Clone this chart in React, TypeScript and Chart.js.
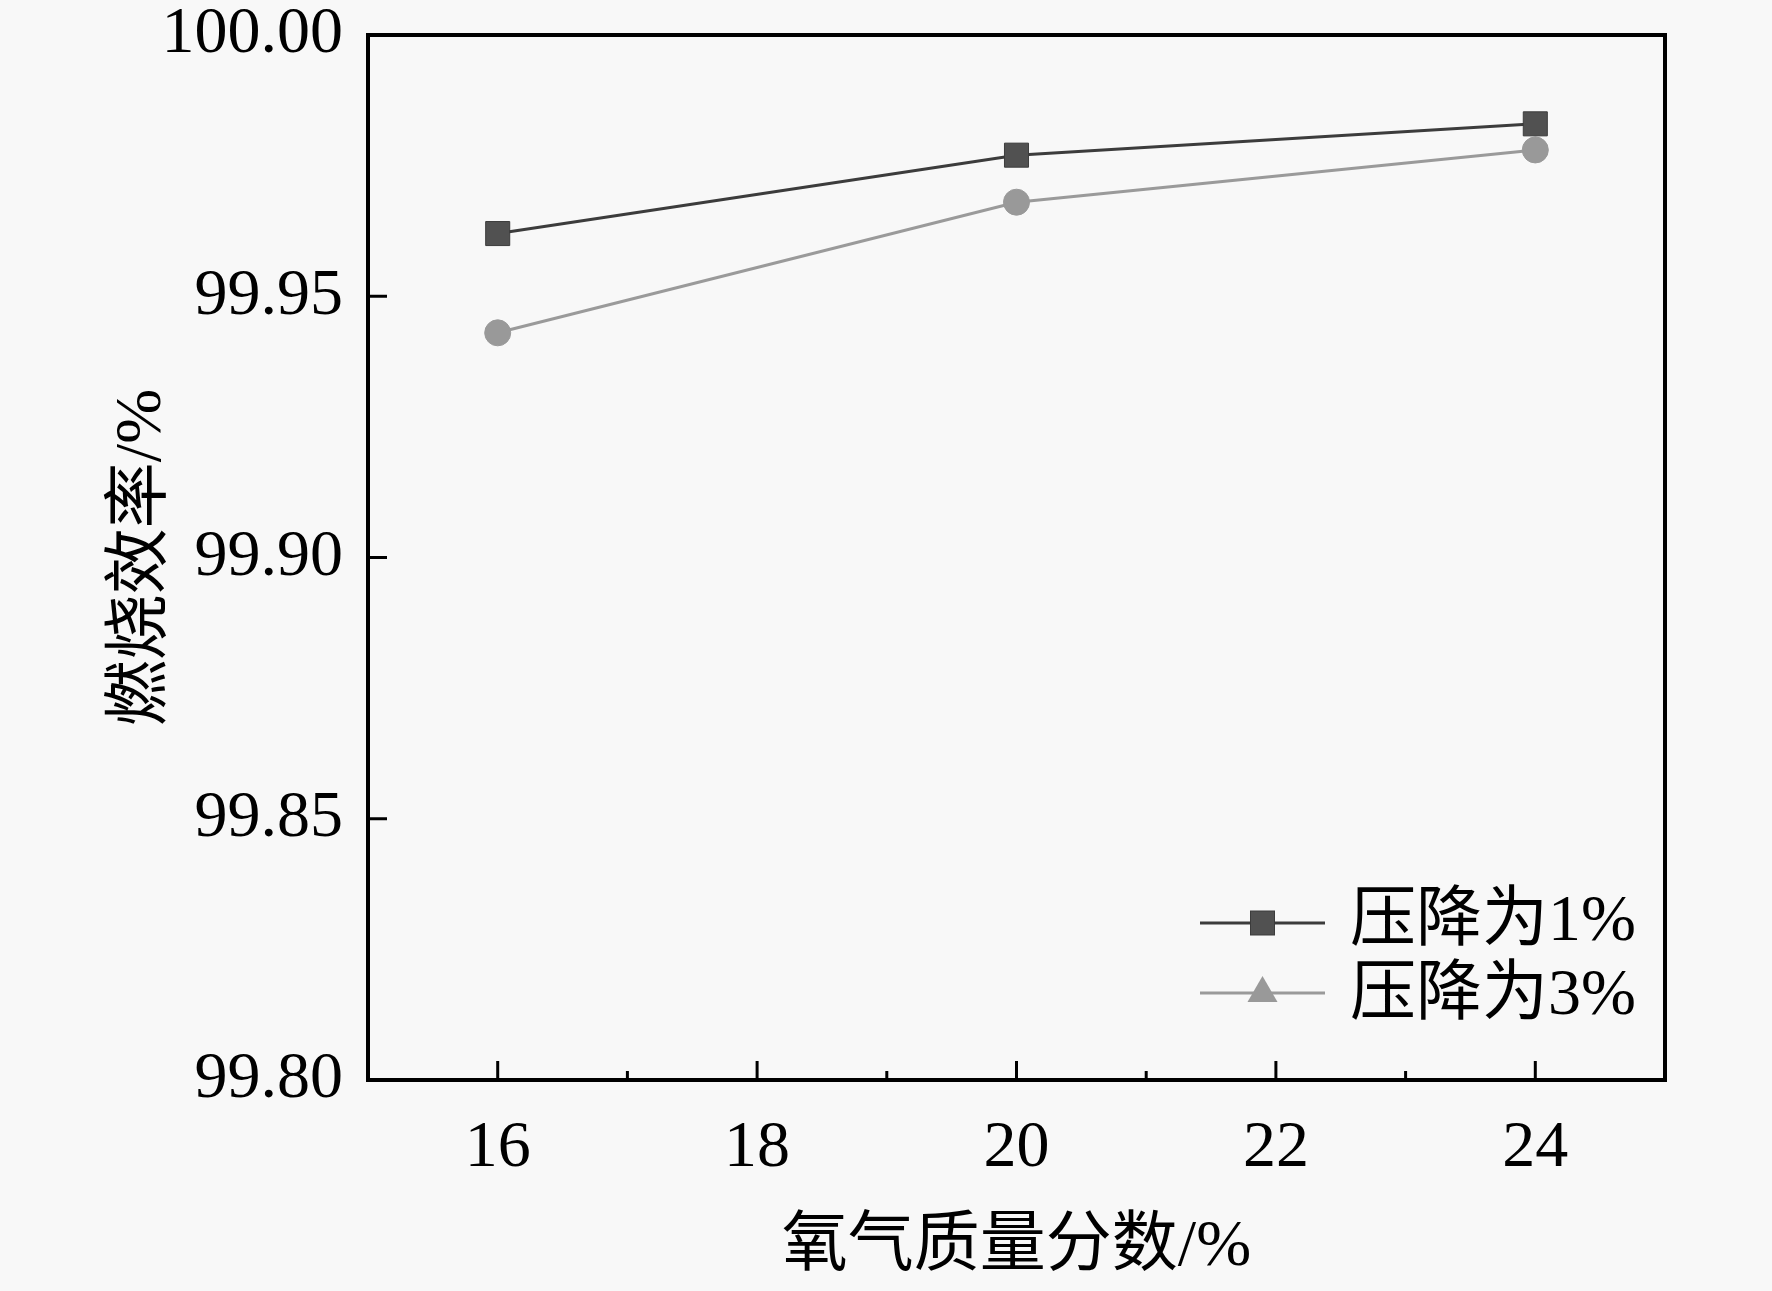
import { useEffect, useRef } from "react"
import { Chart, type ChartConfiguration, type Plugin, registerables } from "chart.js"

Chart.register(...registerables)

// datos
const oxygenFraction = [16, 20, 24]
const efficiency1 = [99.962, 99.977, 99.983]
const efficiency3 = [99.943, 99.968, 99.978]
const seriesLabels = ["压降为1%", "压降为3%"]

const xMajorTicks = [16, 18, 20, 22, 24]
const xMinorTicks = [17, 19, 21, 23]
const yTicks = [99.8, 99.85, 99.9, 99.95, 100.0]

const xTitle = "氧气质量分数/%"
const yTitle = "燃烧效率/%"

const BG = "#f8f8f8"
const DARK_LINE = "#3c3c3c"
const DARK_FILL = "#515151"
const LIGHT_LINE = "#9a9a9a"
const LIGHT_FILL = "#999999"

const serif = "'Liberation Serif', 'Times New Roman', 'Noto Sans CJK SC', serif"

// fondo, marco, marcas de los ejes y leyenda
const framePlugin: Plugin = {
	id: "frame",
	beforeDraw(chart) {
		const { ctx, width, height } = chart
		ctx.save()
		ctx.fillStyle = BG
		ctx.fillRect(0, 0, width, height)
		ctx.restore()
	},
	afterDraw(chart) {
		const { ctx, chartArea } = chart
		const x = chart.scales.x
		const y = chart.scales.y
		ctx.save()
		ctx.strokeStyle = "#000"
		ctx.lineWidth = 3
		xMajorTicks.forEach((v) => {
			const px = x.getPixelForValue(v)
			ctx.beginPath()
			ctx.moveTo(px, chartArea.bottom)
			ctx.lineTo(px, chartArea.bottom - 19)
			ctx.stroke()
		})
		xMinorTicks.forEach((v) => {
			const px = x.getPixelForValue(v)
			ctx.beginPath()
			ctx.moveTo(px, chartArea.bottom)
			ctx.lineTo(px, chartArea.bottom - 9)
			ctx.stroke()
		})
		yTicks.forEach((v) => {
			const py = y.getPixelForValue(v)
			ctx.beginPath()
			ctx.moveTo(chartArea.left, py)
			ctx.lineTo(chartArea.left + 19, py)
			ctx.stroke()
		})
		ctx.lineWidth = 4
		ctx.strokeRect(chartArea.left, chartArea.top, chartArea.right - chartArea.left, chartArea.bottom - chartArea.top)

		// leyenda
		const lx0 = chartArea.right - 465
		const lx1 = chartArea.right - 340
		const mx = (lx0 + lx1) / 2
		const rows = [chartArea.bottom - 157, chartArea.bottom - 87]
		ctx.lineWidth = 3
		ctx.strokeStyle = DARK_LINE
		ctx.beginPath()
		ctx.moveTo(lx0, rows[0])
		ctx.lineTo(lx1, rows[0])
		ctx.stroke()
		ctx.fillStyle = DARK_FILL
		ctx.lineWidth = 1
		ctx.fillRect(mx - 12, rows[0] - 12, 24, 24)
		ctx.strokeRect(mx - 12, rows[0] - 12, 24, 24)

		ctx.lineWidth = 3
		ctx.strokeStyle = LIGHT_LINE
		ctx.beginPath()
		ctx.moveTo(lx0, rows[1])
		ctx.lineTo(lx1, rows[1])
		ctx.stroke()
		ctx.fillStyle = LIGHT_FILL
		ctx.beginPath()
		ctx.moveTo(mx, rows[1] - 17)
		ctx.lineTo(mx + 15, rows[1] + 9)
		ctx.lineTo(mx - 15, rows[1] + 9)
		ctx.closePath()
		ctx.fill()

		ctx.fillStyle = "#000"
		ctx.font = `66px ${serif}`
		ctx.textAlign = "left"
		ctx.textBaseline = "middle"
		ctx.fillText(seriesLabels[0], lx1 + 25, rows[0])
		ctx.fillText(seriesLabels[1], lx1 + 25, rows[1] + 4)
		ctx.restore()
	},
}

export default function App() {
	const canvasRef = useRef<HTMLCanvasElement>(null)
	const chartRef = useRef<Chart | null>(null)

	useEffect(() => {
		if (!canvasRef.current) return
		document.body.style.margin = "0"
		document.body.style.background = BG

		if (chartRef.current) {
			chartRef.current.destroy()
		}

		const ctx = canvasRef.current.getContext("2d")
		if (!ctx) return

		const config: ChartConfiguration = {
			type: "line",
			data: {
				datasets: [
					{
						label: seriesLabels[0],
						data: oxygenFraction.map((x, i) => ({ x, y: efficiency1[i] })),
						borderColor: DARK_LINE,
						borderWidth: 3,
						pointStyle: "rect",
						pointRadius: 17,
						pointBackgroundColor: DARK_FILL,
						pointBorderColor: DARK_LINE,
						pointBorderWidth: 1,
						tension: 0,
					},
					{
						label: seriesLabels[1],
						data: oxygenFraction.map((x, i) => ({ x, y: efficiency3[i] })),
						borderColor: LIGHT_LINE,
						borderWidth: 3,
						pointStyle: "circle",
						pointRadius: 13,
						pointBackgroundColor: LIGHT_FILL,
						pointBorderColor: LIGHT_FILL,
						pointBorderWidth: 1,
						tension: 0,
					},
				],
			},
			options: {
				responsive: true,
				maintainAspectRatio: false,
				animation: false,
				devicePixelRatio: 1,
				layout: { padding: { top: 35, right: 107, left: 0, bottom: 0 } },
				plugins: {
					legend: { display: false },
					tooltip: { enabled: false },
				},
				scales: {
					x: {
						type: "linear",
						min: 15,
						max: 25,
						afterBuildTicks: (scale) => {
							scale.ticks = xMajorTicks.map((value) => ({ value }))
						},
						afterFit: (scale: any) => {
							scale.height = 211
							scale.paddingLeft = 0
							scale.paddingRight = 0
						},
						grid: { display: false, drawTicks: false },
						border: { display: false },
						ticks: {
							color: "#000",
							padding: 36,
							maxRotation: 0,
							font: { size: 66, family: serif, lineHeight: 1 },
						},
						title: {
							display: true,
							text: xTitle,
							color: "#000",
							padding: { top: 0, bottom: 10 },
							font: { size: 66, family: serif, lineHeight: 1 },
						},
					},
					y: {
						type: "linear",
						min: 99.8,
						max: 100.0,
						afterBuildTicks: (scale) => {
							scale.ticks = yTicks.map((value) => ({ value }))
						},
						afterFit: (scale: any) => {
							scale.width = 368
							scale.paddingTop = 0
							scale.paddingBottom = 0
						},
						grid: { display: false, drawTicks: false },
						border: { display: false },
						ticks: {
							color: "#000",
							padding: 25,
							font: { size: 66, family: serif, lineHeight: 1 },
							callback: (v) => Number(v).toFixed(2),
						},
						title: {
							display: true,
							text: yTitle,
							color: "#000",
							padding: { top: 110, bottom: 0 },
							font: { size: 66, family: serif, lineHeight: 1 },
						},
					},
				},
			},
			plugins: [framePlugin],
		}

		chartRef.current = new Chart(ctx, config)

		return () => {
			if (chartRef.current) {
				chartRef.current.destroy()
				chartRef.current = null
			}
		}
	}, [])

	return (
		<div style={{ position: "absolute", left: 0, top: 0, width: 1772, height: 1291 }}>
			<canvas ref={canvasRef}></canvas>
		</div>
	)
}
